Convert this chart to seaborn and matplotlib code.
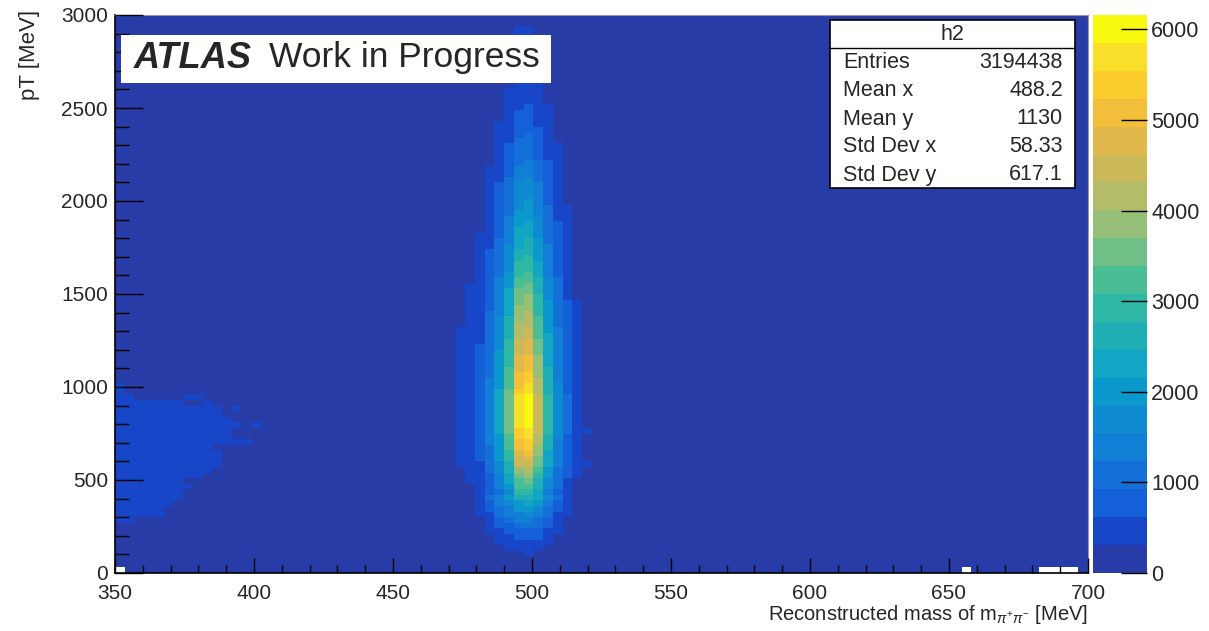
import numpy as np
import pandas as pd
import seaborn as sns
import matplotlib
matplotlib.use("Agg")
import matplotlib.pyplot as plt
from matplotlib.colors import ListedColormap
from matplotlib.patches import Rectangle
from matplotlib.lines import Line2D

# ---------------- data ----------------
mass_min, mass_max, mass_bin = 350.0, 700.0, 3.5      # 100 bins in mass
pt_min, pt_max, pt_bin = 0.0, 3000.0, 30.0             # 100 bins in pT

# counts in the peak column (mass bin 42, ~497-500 MeV), one per pT bin (bottom -> top)
center_counts = [
    120, 160, 220, 320, 450, 560, 770, 900, 1100, 1350,
    1600, 1950, 2200, 2600, 3000, 3300, 3600, 3900, 4200, 4600,
    4900, 5100, 5300, 5450, 5600, 5800, 5950, 6050, 6100, 6080,
    6000, 5900, 5700, 5550, 5400, 5250, 5150, 5050, 4950, 4900,
    4750, 4650, 4500, 4400, 4300, 4150, 4050, 3950, 3850, 3750,
    3650, 3450, 3300, 3200, 3050, 2950, 2850, 2700, 2600, 2500,
    2400, 2300, 2200, 2100, 2000, 1950, 1900, 1800, 1700, 1650,
    1550, 1450, 1400, 1300, 1200, 1150, 1100, 1000, 950, 880,
    820, 760, 700, 650, 600, 560, 520, 480, 450, 420,
    400, 380, 360, 340, 320, 310, 345, 345, 280, 260,
]

# relative mass profile of the peak (mass-bin index -> fraction of the peak column)
core_bins  = [34, 35, 36, 37, 38, 39, 40, 41, 42, 43, 44, 45, 46, 47, 48]
core_shape = [0.04, 0.07, 0.09, 0.13, 0.23, 0.38, 0.60, 0.94, 1.00, 0.75, 0.48, 0.28, 0.16, 0.08, 0.04]
low_pt_rows = 14   # below this pT bin the peak is relatively wider
low_bins  = [36, 37, 38, 39, 40, 41, 42, 43, 44, 45, 46, 47]
low_shape = [0.10, 0.22, 0.38, 0.58, 0.78, 0.95, 1.00, 0.85, 0.60, 0.38, 0.20, 0.10]

# low-mass shoulder at the left edge: pT bin -> last mass bin above the first contour
blob_rows     = [9, 10, 11, 12, 13, 14, 15, 16, 17, 18, 19, 20, 21, 22, 23, 24, 25, 26, 27, 28, 29, 30, 31, 32, 33]
blob_last_bin = [1, 4, 4, 5, 6, 6, 7, 6, 8, 9, 10, 10, 10, 9, 13, 11, 11, 11, 11, 10, 10, 6, 1, 0, 0]
blob_extra    = [(26, 12), (26, 14), (29, 12), (30, 9), (31, 7), (31, 8), (19, 48), (25, 48), (33, 35), (30, 35)]
blob_count = 430
background_count = 40
empty_cells = [(0, 0), (0, 87), (0, 95), (0, 96), (0, 97), (0, 98)]

colors = ["#283ca8", "#1747c8", "#1460d8", "#1470d8", "#117fd6", "#0e8ad0", "#0b98cc",
          "#10a6c4", "#1faeb4", "#2fb7a6", "#4bbd94", "#6fbf86", "#96c077", "#b3bc68",
          "#cbb859", "#e0b84c", "#f3be3a", "#fccb2e", "#f8e02a", "#f9f90f"]
z_max = 6160

stats_labels = ["Entries", "Mean x", "Mean y", "Std Dev x", "Std Dev y"]
stats_values = ["3194438", "488.2", "1130", "58.33", "617.1"]

x_ticks = [350, 400, 450, 500, 550, 600, 650, 700]
y_ticks = [0, 500, 1000, 1500, 2000, 2500, 3000]
z_ticks = [0, 1000, 2000, 3000, 4000, 5000, 6000]

# ---------------- build the histogram table ----------------
n_mass = int(round((mass_max - mass_min) / mass_bin))
n_pt = int(round((pt_max - pt_min) / pt_bin))
H = np.full((n_pt, n_mass), float(background_count))
for j, c in enumerate(center_counts):
    bins, shape = (low_bins, low_shape) if j < low_pt_rows else (core_bins, core_shape)
    for b, s in zip(bins, shape):
        H[j, b] = max(H[j, b], c * s)
for j, last in zip(blob_rows, blob_last_bin):
    H[j, :last + 1] = np.maximum(H[j, :last + 1], blob_count)
for j, b in blob_extra:
    H[j, b] = max(H[j, b], blob_count)
for j, b in empty_cells:
    H[j, b] = 0

df = pd.DataFrame(H)

# ---------------- plot ----------------
sns.set_theme(style="white")
plt.rcParams["font.family"] = ["Liberation Sans", "DejaVu Sans"]
plt.rcParams["mathtext.fontset"] = "custom"
plt.rcParams["mathtext.rm"] = "Liberation Sans"
plt.rcParams["mathtext.it"] = "Liberation Sans:italic"
plt.rcParams["axes.axisbelow"] = False

W, Hpx = 1209, 631
fig = plt.figure(figsize=(W / 100, Hpx / 100), dpi=100)
fig.patch.set_facecolor("white")

def fx(px):
    return px / W

def fy(py):
    return 1 - py / Hpx

ax = fig.add_axes([fx(115), fy(573), fx(1088) - fx(115), fy(15) - fy(573)])
cax = fig.add_axes([fx(1093), fy(573), fx(1147) - fx(1093), fy(15) - fy(573)])

cmap = ListedColormap(colors)
sns.heatmap(df, ax=ax, cmap=cmap, vmin=0, vmax=z_max, mask=(H == 0),
            cbar=True, cbar_ax=cax, xticklabels=False, yticklabels=False,
            linewidths=0, rasterized=True)
ax.set_axisbelow(False)
cax.set_axisbelow(False)
ax.set_facecolor("white")
ax.set_xlim(0, n_mass)
ax.set_ylim(0, n_pt)

xt = [(v - mass_min) / mass_bin for v in x_ticks]
yt = [(v - pt_min) / pt_bin for v in y_ticks]
ax.set_xticks(xt)
ax.set_xticklabels([str(v) for v in x_ticks])
ax.set_yticks(yt)
ax.set_yticklabels([str(v) for v in y_ticks])
ax.set_xticks([(v - mass_min) / mass_bin for v in range(350, 701, 10)], minor=True)
ax.set_yticks([(v - pt_min) / pt_bin for v in range(0, 3001, 100)], minor=True)
ax.tick_params(axis="x", which="major", direction="in", length=11, width=1, color="black",
               labelsize=15, pad=8, bottom=True, top=False)
ax.tick_params(axis="x", which="minor", direction="in", length=5.5, width=1, color="black",
               bottom=True, top=False)
ax.tick_params(axis="y", which="major", direction="in", length=20, width=1, color="black",
               labelsize=15, pad=5, left=True, right=False)
ax.tick_params(axis="y", which="minor", direction="in", length=10, width=1, color="black",
               left=True, right=False)
ax.set_xlabel("")
ax.set_ylabel("")
for name, s in ax.spines.items():
    s.set_visible(True)
    if name in ("left", "bottom"):
        s.set_color("black"); s.set_linewidth(1.2)
    else:
        s.set_color("#999999"); s.set_linewidth(0.8)

cb = ax.collections[0].colorbar
cb.set_ticks(z_ticks)
cb.set_ticklabels([str(v) for v in z_ticks])
cb.outline.set_visible(False)
cax.tick_params(axis="y", which="major", direction="in", length=19, width=1, color="black",
                labelsize=15.5, pad=3, right=True, left=False)
cax.tick_params(axis="y", which="minor", length=0)

# axis titles
fig.text(fx(30), fy(10), "pT [MeV]", rotation=90, ha="center", va="top", fontsize=16)
fig.text(fx(1088), fy(614), r"Reconstructed mass of m$_{\pi^{+}\pi^{-}}$ [MeV]",
         ha="right", va="center", fontsize=14.5)

# ATLAS label box
fig.patches.append(Rectangle((fx(121), fy(83)), fx(551) - fx(121), fy(35) - fy(83),
                             transform=fig.transFigure, facecolor="white", edgecolor="none", zorder=5))
fig.text(fx(134), fy(58), "ATLAS", fontsize=26, fontweight="bold", fontstyle="italic",
         ha="left", va="center", zorder=6)
fig.text(fx(269), fy(58), "Work in Progress", fontsize=25.5, ha="left", va="center", zorder=6)

# statistics box
fig.patches.append(Rectangle((fx(830), fy(188)), fx(1075) - fx(830), fy(20) - fy(188),
                             transform=fig.transFigure, facecolor="white", edgecolor="black",
                             linewidth=1.2, zorder=5))
fig.lines.append(Line2D([fx(830), fx(1075)], [fy(48), fy(48)], transform=fig.transFigure,
                        color="black", linewidth=1.0, zorder=6))
fig.text(fx(952), fy(34), "h2", fontsize=15.5, ha="center", va="center", zorder=7)
for i, (lab, val) in enumerate(zip(stats_labels, stats_values)):
    yy = 63 + 28 * i
    fig.text(fx(843), fy(yy), lab, fontsize=15.5, ha="left", va="center", zorder=7)
    fig.text(fx(1063), fy(yy), val, fontsize=15.5, ha="right", va="center", zorder=7)

fig.savefig("out.png", dpi=100)
